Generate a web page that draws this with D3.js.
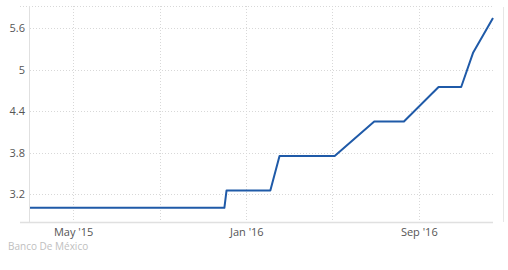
<!DOCTYPE html>
<html><head><meta charset="utf-8">
<script src="https://cdn.jsdelivr.net/npm/d3@7"></script>
<style>body{margin:0;background:#fff;}svg{display:block;font-family:"Open Sans","Noto Sans",sans-serif;}</style>
</head><body>
<svg id="c" width="508" height="270"></svg>
<script>
const dates = ["2015-03-01","2015-12-01","2015-12-04","2016-02-04","2016-02-17","2016-05-05","2016-06-30","2016-08-11","2016-09-29","2016-10-31","2016-11-17","2016-12-15"];
const rates = [3.0,3.0,3.25,3.25,3.75,3.75,4.25,4.25,4.75,4.75,5.25,5.75];
const yTicks = [3.2,3.8,4.4,5,5.6];
const gridDates = ["2015-05-01","2015-09-01","2016-01-01","2016-05-01","2016-09-01"];
const labelDates = ["2015-05-01","2016-01-01","2016-09-01"];
const sourceText = "Banco De México";

const parse = d3.timeParse("%Y-%m-%d");
const data = dates.map((d,i)=>({date:parse(d), value:rates[i]}));
const svg = d3.select("#c");
const L=30, R=493, T=6, B=222;
const x = d3.scaleTime().domain([parse("2015-03-01"), parse("2016-12-15")]).range([L,R]);
const y = d3.scaleLinear().domain([2.795, 5.922]).range([B,T]);

// grid
const g = svg.append("g");
g.selectAll(".hg").data(yTicks).enter().append("line")
  .attr("x1",L).attr("x2",R).attr("y1",d=>Math.round(y(d))+0.5).attr("y2",d=>Math.round(y(d))+0.5)
  .attr("stroke","#d8d8d8").attr("stroke-dasharray","1,2");
g.selectAll(".vg").data(gridDates.map(parse)).enter().append("line")
  .attr("x1",d=>Math.round(x(d))+0.5).attr("x2",d=>Math.round(x(d))+0.5).attr("y1",T).attr("y2",B)
  .attr("stroke","#d8d8d8").attr("stroke-dasharray","1,2");
// top border dotted
g.append("line").attr("x1",20).attr("x2",R).attr("y1",T+0.5).attr("y2",T+0.5)
  .attr("stroke","#d8d8d8").attr("stroke-dasharray","1,2");
// axes lines
g.append("line").attr("x1",L-0.5).attr("x2",L-0.5).attr("y1",T).attr("y2",B).attr("stroke","#e0e0e0");
g.append("line").attr("x1",20).attr("x2",R).attr("y1",B+0.5).attr("y2",B+0.5).attr("stroke","#e0e0e0").attr("stroke-width",1.5);
g.append("line").attr("x1",503.5).attr("x2",503.5).attr("y1",T+1).attr("y2",B).attr("stroke","#e6e6e6");

// y labels
const yAxis = d3.axisLeft(y).tickValues(yTicks).tickSize(0).tickPadding(0).tickFormat(d=>String(d));
const ya = svg.append("g").attr("transform","translate(25,0)").call(yAxis);
ya.select(".domain").remove();
ya.selectAll("text").attr("fill","#555").attr("font-size","11px").attr("font-family","'Open Sans','Noto Sans',sans-serif");

// x labels
const xAxis = d3.axisBottom(x).tickValues(labelDates.map(parse)).tickSize(0).tickPadding(0).tickFormat(d3.timeFormat("%b '%y"));
const xa = svg.append("g").attr("transform","translate(0,228)").call(xAxis);
xa.select(".domain").remove();
xa.selectAll("text").attr("fill","#555").attr("font-size","11px").attr("font-family","'Open Sans','Noto Sans',sans-serif");

// line
svg.append("path").datum(data)
  .attr("d", d3.line().x(d=>x(d.date)).y(d=>y(d.value)))
  .attr("fill","none").attr("stroke","#1f5aa8").attr("stroke-width",2).attr("stroke-linejoin","round");

svg.append("text").attr("x",8).attr("y",250).text(sourceText)
  .attr("fill","#c0c0c0").attr("font-size","10px");
</script>
</body></html>
